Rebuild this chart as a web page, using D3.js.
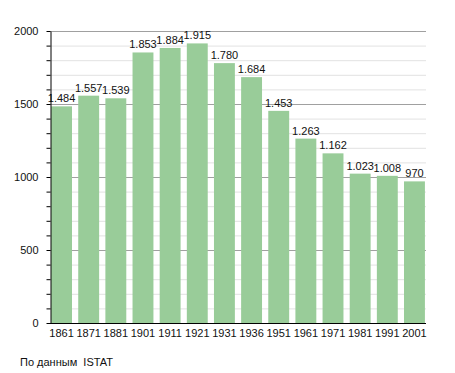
<!DOCTYPE html>
<html>
<head>
<meta charset="utf-8">
<script src="https://cdn.jsdelivr.net/npm/d3@7"></script>
<style>
  body { margin: 0; background: #fff; }
  text { font-family: "Liberation Sans", Arial, sans-serif; }
</style>
</head>
<body>
<script>
const years = ["1861", "1871", "1881", "1901", "1911", "1921", "1931", "1936", "1951", "1961", "1971", "1981", "1991", "2001"];
const population = [1484, 1557, 1539, 1853, 1884, 1915, 1780, 1684, 1453, 1263, 1162, 1023, 1008, 970];
const majorTicks = [0, 500, 1000, 1500, 2000];
const sourceNote = "По данным  ISTAT";

const width = 455, height = 373;
const margin = { left: 50, right: 29, top: 31, bottom: 50 };

const svg = d3.select("body").append("svg")
  .attr("width", width)
  .attr("height", height);

const x = d3.scaleBand()
  .domain(years)
  .range([margin.left, width - margin.right])
  .paddingInner(0.23)
  .paddingOuter(0.04);

const y = d3.scaleLinear()
  .domain([0, 2000])
  .range([height - margin.bottom, margin.top]);

// minor grid every 100
const minor = d3.range(100, 2000, 100).filter(v => v % 500 !== 0);
svg.append("g").selectAll("line")
  .data(minor)
  .join("line")
  .attr("x1", margin.left).attr("x2", width - margin.right)
  .attr("y1", d => y(d) + 0.5).attr("y2", d => y(d) + 0.5)
  .attr("stroke", "#e2e2e2");

svg.append("g").selectAll("line")
  .data(majorTicks.filter(d => d > 0))
  .join("line")
  .attr("x1", margin.left).attr("x2", width - margin.right)
  .attr("y1", d => y(d) + 0.5).attr("y2", d => y(d) + 0.5)
  .attr("stroke", "#a0a0a0");

// bars
svg.append("g").selectAll("rect")
  .data(population)
  .join("rect")
  .attr("x", (d, i) => x(years[i]))
  .attr("width", x.bandwidth())
  .attr("y", d => y(d))
  .attr("height", d => y(0) - y(d))
  .attr("fill", "#99cc99");

// value labels
svg.append("g").selectAll("text")
  .data(population)
  .join("text")
  .attr("x", (d, i) => x(years[i]) + x.bandwidth() / 2)
  .attr("y", d => y(d) - 4)
  .attr("text-anchor", "middle")
  .attr("font-size", 11)
  .attr("fill", "#111")
  .text(d => d3.format(",")(d).replace(/,/g, "."));

// y axis
const yAxis = svg.append("g")
  .attr("transform", `translate(${margin.left + 0.5},0)`)
  .call(d3.axisLeft(y).tickValues(majorTicks).tickFormat(d3.format("d")).tickSize(0).tickPadding(12));
yAxis.select(".domain").attr("stroke", "#000");
yAxis.selectAll("text").attr("font-size", 11).attr("fill", "#111")
  .style("font-family", "'Liberation Sans', Arial, sans-serif");

svg.append("g")
  .attr("transform", `translate(${margin.left + 0.5},0)`)
  .selectAll("line")
  .data(d3.range(0, 2001, 100))
  .join("line")
  .attr("x1", -4).attr("x2", 0)
  .attr("y1", d => y(d) + 0.5).attr("y2", d => y(d) + 0.5)
  .attr("stroke", "#000");

// x axis
const xAxis = svg.append("g")
  .attr("transform", `translate(0,${y(0) + 0.5})`)
  .call(d3.axisBottom(x).tickSize(0).tickPadding(6));
xAxis.select(".domain").attr("stroke", "#000").attr("d", `M${margin.left},0H${width - margin.right}`);
xAxis.selectAll("text").attr("font-size", 11).attr("fill", "#111")
  .style("font-family", "'Liberation Sans', Arial, sans-serif");

svg.append("text")
  .attr("x", 20)
  .attr("y", 366)
  .attr("font-size", 11)
  .attr("fill", "#111")
  .style("white-space", "pre")
  .text(sourceNote);
</script>
</body>
</html>
